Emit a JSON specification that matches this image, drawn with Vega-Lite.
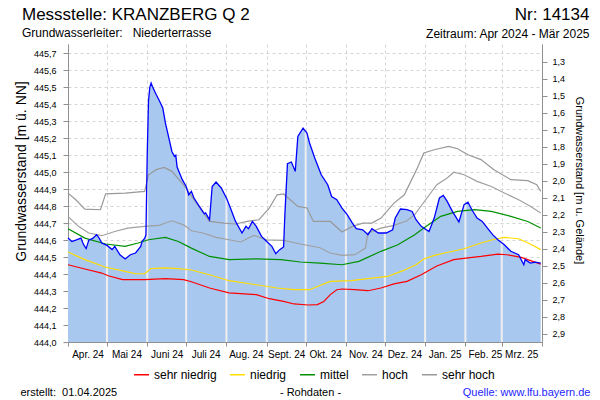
{
"$schema": "https://vega.github.io/schema/vega-lite/v6.json",
"width": 474, "height": 298,
"autosize": {"type": "none"},
"padding": {"left": 68, "top": 44, "right": 58, "bottom": 58},
"background": "white",
"title": {"text": "Messstelle: KRANZBERG Q 2", "subtitle": "Grundwasserleiter:\u00a0\u00a0 Niederterrasse", "anchor": "start", "frame": "group", "dx": -46, "offset": -35, "fontSize": 17, "fontWeight": "normal", "subtitleFontSize": 12, "color": "#000000", "subtitleColor": "#000000", "subtitlePadding": 4},
"config": {"font": "Liberation Sans", "view": {"stroke": null}},
"datasets": {
"pegel": [
{"date":"2024-04-01","level":444.612},{"date":"2024-04-04","level":444.592},{"date":"2024-04-07","level":444.60},{"date":"2024-04-11","level":444.612},{"date":"2024-04-13","level":444.573},{"date":"2024-04-15","level":444.55},{"date":"2024-04-17","level":444.60},{"date":"2024-04-20","level":444.61},{"date":"2024-04-23","level":444.632},{"date":"2024-04-25","level":444.612},{"date":"2024-04-27","level":444.583},
{"date":"2024-05-01","level":444.569},{"date":"2024-05-05","level":444.544},{"date":"2024-05-07","level":444.563},{"date":"2024-05-11","level":444.514},{"date":"2024-05-15","level":444.489},{"date":"2024-05-19","level":444.514},{"date":"2024-05-23","level":444.524},{"date":"2024-05-27","level":444.563},{"date":"2024-05-28","level":444.592},{"date":"2024-05-30","level":444.61},{"date":"2024-05-31","level":444.63},
{"date":"2024-06-01","level":445.1},{"date":"2024-06-02","level":445.42},{"date":"2024-06-03","level":445.5},{"date":"2024-06-04","level":445.525},{"date":"2024-06-05","level":445.505},{"date":"2024-06-08","level":445.456},{"date":"2024-06-10","level":445.427},{"date":"2024-06-13","level":445.378},{"date":"2024-06-15","level":445.29},{"date":"2024-06-18","level":445.19},{"date":"2024-06-20","level":445.122},{"date":"2024-06-22","level":445.093},{"date":"2024-06-23","level":445.10},{"date":"2024-06-24","level":445.03},{"date":"2024-06-28","level":444.956},
{"date":"2024-07-01","level":444.916},{"date":"2024-07-03","level":444.867},{"date":"2024-07-05","level":444.887},{"date":"2024-07-07","level":444.848},{"date":"2024-07-11","level":444.80},{"date":"2024-07-15","level":444.755},{"date":"2024-07-16","level":444.76},{"date":"2024-07-19","level":444.72},{"date":"2024-07-21","level":444.916},{"date":"2024-07-24","level":444.942},{"date":"2024-07-28","level":444.907},
{"date":"2024-08-01","level":444.848},{"date":"2024-08-04","level":444.79},{"date":"2024-08-08","level":444.71},{"date":"2024-08-13","level":444.642},{"date":"2024-08-16","level":444.681},{"date":"2024-08-18","level":444.667},{"date":"2024-08-21","level":444.71},{"date":"2024-08-24","level":444.681},{"date":"2024-08-28","level":444.622},
{"date":"2024-09-01","level":444.592},{"date":"2024-09-05","level":444.563},{"date":"2024-09-08","level":444.52},{"date":"2024-09-11","level":444.544},{"date":"2024-09-14","level":444.56},{"date":"2024-09-15","level":444.75},{"date":"2024-09-17","level":445.05},{"date":"2024-09-20","level":445.06},{"date":"2024-09-23","level":445.005},{"date":"2024-09-25","level":445.211},{"date":"2024-09-29","level":445.26},
{"date":"2024-10-02","level":445.231},{"date":"2024-10-04","level":445.172},{"date":"2024-10-08","level":445.084},{"date":"2024-10-11","level":445.025},{"date":"2024-10-13","level":444.985},{"date":"2024-10-18","level":444.926},{"date":"2024-10-21","level":444.857},{"date":"2024-10-25","level":444.838},{"date":"2024-10-29","level":444.789},
{"date":"2024-11-02","level":444.75},{"date":"2024-11-06","level":444.70},{"date":"2024-11-09","level":444.667},{"date":"2024-11-14","level":444.661},{"date":"2024-11-18","level":444.632},{"date":"2024-11-21","level":444.667},{"date":"2024-11-26","level":444.642},
{"date":"2024-12-02","level":444.642},{"date":"2024-12-07","level":444.661},{"date":"2024-12-09","level":444.73},{"date":"2024-12-13","level":444.783},{"date":"2024-12-18","level":444.78},{"date":"2024-12-22","level":444.769},{"date":"2024-12-25","level":444.72},{"date":"2024-12-29","level":444.681},
{"date":"2025-01-04","level":444.651},{"date":"2025-01-08","level":444.73},{"date":"2025-01-12","level":444.848},{"date":"2025-01-15","level":444.863},{"date":"2025-01-18","level":444.828},{"date":"2025-01-22","level":444.769},{"date":"2025-01-27","level":444.707},{"date":"2025-01-31","level":444.809},
{"date":"2025-02-03","level":444.824},{"date":"2025-02-06","level":444.779},{"date":"2025-02-10","level":444.73},{"date":"2025-02-14","level":444.71},{"date":"2025-02-18","level":444.671},{"date":"2025-02-22","level":444.632},{"date":"2025-02-26","level":444.602},
{"date":"2025-03-03","level":444.573},{"date":"2025-03-08","level":444.534},{"date":"2025-03-14","level":444.514},{"date":"2025-03-18","level":444.455},{"date":"2025-03-19","level":444.485},{"date":"2025-03-23","level":444.465},{"date":"2025-03-27","level":444.47},{"date":"2025-03-31","level":444.465}
],
"monate": [
{"date":"2024-05-01","level":444.569},{"date":"2024-06-01","level":444.95},{"date":"2024-07-01","level":444.916},{"date":"2024-08-01","level":444.848},{"date":"2024-09-01","level":444.592},{"date":"2024-10-01","level":445.24},{"date":"2024-11-01","level":444.76},{"date":"2024-12-01","level":444.642},{"date":"2025-01-01","level":444.66},{"date":"2025-02-01","level":444.815},{"date":"2025-03-01","level":444.59}
],
"grenzen": [
{"klasse":"sehr niedrig","date":"2024-04-01","level":444.455},{"klasse":"sehr niedrig","date":"2024-04-14","level":444.43},{"klasse":"sehr niedrig","date":"2024-04-27","level":444.406},{"klasse":"sehr niedrig","date":"2024-05-02","level":444.39},{"klasse":"sehr niedrig","date":"2024-05-13","level":444.367},{"klasse":"sehr niedrig","date":"2024-05-30","level":444.367},{"klasse":"sehr niedrig","date":"2024-06-15","level":444.373},{"klasse":"sehr niedrig","date":"2024-06-29","level":444.367},{"klasse":"sehr niedrig","date":"2024-07-05","level":444.355},{"klasse":"sehr niedrig","date":"2024-07-19","level":444.318},{"klasse":"sehr niedrig","date":"2024-08-03","level":444.289},{"klasse":"sehr niedrig","date":"2024-08-24","level":444.279},{"klasse":"sehr niedrig","date":"2024-09-03","level":444.255},{"klasse":"sehr niedrig","date":"2024-09-14","level":444.239},{"klasse":"sehr niedrig","date":"2024-09-22","level":444.224},{"klasse":"sehr niedrig","date":"2024-10-03","level":444.218},{"klasse":"sehr niedrig","date":"2024-10-10","level":444.22},{"klasse":"sehr niedrig","date":"2024-10-15","level":444.239},{"klasse":"sehr niedrig","date":"2024-10-20","level":444.279},{"klasse":"sehr niedrig","date":"2024-10-25","level":444.308},{"klasse":"sehr niedrig","date":"2024-10-29","level":444.312},{"klasse":"sehr niedrig","date":"2024-11-08","level":444.308},{"klasse":"sehr niedrig","date":"2024-11-18","level":444.302},{"klasse":"sehr niedrig","date":"2024-11-28","level":444.318},{"klasse":"sehr niedrig","date":"2024-12-08","level":444.342},{"klasse":"sehr niedrig","date":"2024-12-18","level":444.357},{"klasse":"sehr niedrig","date":"2024-12-29","level":444.396},{"klasse":"sehr niedrig","date":"2025-01-10","level":444.448},{"klasse":"sehr niedrig","date":"2025-01-23","level":444.485},{"klasse":"sehr niedrig","date":"2025-02-03","level":444.495},{"klasse":"sehr niedrig","date":"2025-02-13","level":444.504},{"klasse":"sehr niedrig","date":"2025-02-26","level":444.518},{"klasse":"sehr niedrig","date":"2025-03-05","level":444.514},{"klasse":"sehr niedrig","date":"2025-03-16","level":444.498},{"klasse":"sehr niedrig","date":"2025-03-31","level":444.459},
{"klasse":"niedrig","date":"2024-04-01","level":444.53},{"klasse":"niedrig","date":"2024-04-14","level":444.485},{"klasse":"niedrig","date":"2024-04-30","level":444.44},{"klasse":"niedrig","date":"2024-05-15","level":444.416},{"klasse":"niedrig","date":"2024-05-23","level":444.402},{"klasse":"niedrig","date":"2024-05-30","level":444.402},{"klasse":"niedrig","date":"2024-06-04","level":444.432},{"klasse":"niedrig","date":"2024-06-15","level":444.436},{"klasse":"niedrig","date":"2024-06-25","level":444.432},{"klasse":"niedrig","date":"2024-07-05","level":444.424},{"klasse":"niedrig","date":"2024-07-19","level":444.396},{"klasse":"niedrig","date":"2024-08-03","level":444.361},{"klasse":"niedrig","date":"2024-08-24","level":444.337},{"klasse":"niedrig","date":"2024-09-09","level":444.318},{"klasse":"niedrig","date":"2024-09-22","level":444.308},{"klasse":"niedrig","date":"2024-10-04","level":444.308},{"klasse":"niedrig","date":"2024-10-12","level":444.333},{"klasse":"niedrig","date":"2024-10-20","level":444.357},{"klasse":"niedrig","date":"2024-11-05","level":444.361},{"klasse":"niedrig","date":"2024-11-18","level":444.373},{"klasse":"niedrig","date":"2024-12-03","level":444.386},{"klasse":"niedrig","date":"2024-12-15","level":444.42},{"klasse":"niedrig","date":"2024-12-25","level":444.455},{"klasse":"niedrig","date":"2024-12-31","level":444.489},{"klasse":"niedrig","date":"2025-01-08","level":444.51},{"klasse":"niedrig","date":"2025-01-16","level":444.524},{"klasse":"niedrig","date":"2025-01-31","level":444.549},{"klasse":"niedrig","date":"2025-02-13","level":444.583},{"klasse":"niedrig","date":"2025-02-22","level":444.602},{"klasse":"niedrig","date":"2025-03-03","level":444.616},{"klasse":"niedrig","date":"2025-03-14","level":444.608},{"klasse":"niedrig","date":"2025-03-23","level":444.577},{"klasse":"niedrig","date":"2025-03-31","level":444.544},
{"klasse":"mittel","date":"2024-04-01","level":444.667},{"klasse":"mittel","date":"2024-04-14","level":444.612},{"klasse":"mittel","date":"2024-04-30","level":444.577},{"klasse":"mittel","date":"2024-05-15","level":444.563},{"klasse":"mittel","date":"2024-05-25","level":444.583},{"klasse":"mittel","date":"2024-06-02","level":444.602},{"klasse":"mittel","date":"2024-06-15","level":444.616},{"klasse":"mittel","date":"2024-06-25","level":444.592},{"klasse":"mittel","date":"2024-07-05","level":444.553},{"klasse":"mittel","date":"2024-07-19","level":444.504},{"klasse":"mittel","date":"2024-08-03","level":444.485},{"klasse":"mittel","date":"2024-08-24","level":444.49},{"klasse":"mittel","date":"2024-09-12","level":444.485},{"klasse":"mittel","date":"2024-09-27","level":444.471},{"klasse":"mittel","date":"2024-10-12","level":444.465},{"klasse":"mittel","date":"2024-10-29","level":444.455},{"klasse":"mittel","date":"2024-11-11","level":444.475},{"klasse":"mittel","date":"2024-11-28","level":444.534},{"klasse":"mittel","date":"2024-12-11","level":444.573},{"klasse":"mittel","date":"2024-12-24","level":444.632},{"klasse":"mittel","date":"2024-12-31","level":444.671},{"klasse":"mittel","date":"2025-01-13","level":444.74},{"klasse":"mittel","date":"2025-01-26","level":444.769},{"klasse":"mittel","date":"2025-02-08","level":444.779},{"klasse":"mittel","date":"2025-02-21","level":444.769},{"klasse":"mittel","date":"2025-03-08","level":444.74},{"klasse":"mittel","date":"2025-03-21","level":444.71},{"klasse":"mittel","date":"2025-03-31","level":444.671},
{"klasse":"hoch","date":"2024-04-01","level":444.74},{"klasse":"hoch","date":"2024-04-09","level":444.681},{"klasse":"hoch","date":"2024-04-17","level":444.642},{"klasse":"hoch","date":"2024-04-27","level":444.626},{"klasse":"hoch","date":"2024-05-07","level":444.651},{"klasse":"hoch","date":"2024-05-17","level":444.671},{"klasse":"hoch","date":"2024-05-30","level":444.681},{"klasse":"hoch","date":"2024-06-10","level":444.687},{"klasse":"hoch","date":"2024-06-20","level":444.714},{"klasse":"hoch","date":"2024-06-29","level":444.69},{"klasse":"hoch","date":"2024-07-05","level":444.655},{"klasse":"hoch","date":"2024-07-14","level":444.642},{"klasse":"hoch","date":"2024-07-24","level":444.616},{"klasse":"hoch","date":"2024-08-03","level":444.602},{"klasse":"hoch","date":"2024-08-12","level":444.589},{"klasse":"hoch","date":"2024-08-22","level":444.628},{"klasse":"hoch","date":"2024-09-01","level":444.602},{"klasse":"hoch","date":"2024-09-14","level":444.598},{"klasse":"hoch","date":"2024-09-27","level":444.577},{"klasse":"hoch","date":"2024-10-12","level":444.555},{"klasse":"hoch","date":"2024-10-20","level":444.524},{"klasse":"hoch","date":"2024-10-29","level":444.51},{"klasse":"hoch","date":"2024-11-08","level":444.514},{"klasse":"hoch","date":"2024-11-16","level":444.553},{"klasse":"hoch","date":"2024-11-18","level":444.642},{"klasse":"hoch","date":"2024-11-28","level":444.671},{"klasse":"hoch","date":"2024-12-08","level":444.687},{"klasse":"hoch","date":"2024-12-18","level":444.714},{"klasse":"hoch","date":"2024-12-24","level":444.75},{"klasse":"hoch","date":"2024-12-31","level":444.823},{"klasse":"hoch","date":"2025-01-10","level":444.926},{"klasse":"hoch","date":"2025-01-18","level":444.966},{"klasse":"hoch","date":"2025-01-23","level":445.0},{"klasse":"hoch","date":"2025-01-31","level":444.985},{"klasse":"hoch","date":"2025-02-10","level":444.946},{"klasse":"hoch","date":"2025-02-21","level":444.916},{"klasse":"hoch","date":"2025-03-03","level":444.877},{"klasse":"hoch","date":"2025-03-14","level":444.838},{"klasse":"hoch","date":"2025-03-23","level":444.799},{"klasse":"hoch","date":"2025-03-31","level":444.76},
{"klasse":"sehr hoch","date":"2024-04-01","level":444.877},{"klasse":"sehr hoch","date":"2024-04-07","level":444.838},{"klasse":"sehr hoch","date":"2024-04-14","level":444.783},{"klasse":"sehr hoch","date":"2024-04-26","level":444.779},{"klasse":"sehr hoch","date":"2024-04-30","level":444.872},{"klasse":"sehr hoch","date":"2024-05-15","level":444.877},{"klasse":"sehr hoch","date":"2024-05-30","level":444.887},{"klasse":"sehr hoch","date":"2024-06-02","level":444.985},{"klasse":"sehr hoch","date":"2024-06-08","level":445.015},{"klasse":"sehr hoch","date":"2024-06-14","level":445.028},{"klasse":"sehr hoch","date":"2024-06-20","level":445.005},{"klasse":"sehr hoch","date":"2024-06-29","level":444.926},{"klasse":"sehr hoch","date":"2024-07-07","level":444.838},{"klasse":"sehr hoch","date":"2024-07-19","level":444.71},{"klasse":"sehr hoch","date":"2024-07-30","level":444.70},{"klasse":"sehr hoch","date":"2024-08-08","level":444.695},{"klasse":"sehr hoch","date":"2024-08-17","level":444.71},{"klasse":"sehr hoch","date":"2024-08-26","level":444.72},{"klasse":"sehr hoch","date":"2024-09-03","level":444.789},{"klasse":"sehr hoch","date":"2024-09-09","level":444.867},{"klasse":"sehr hoch","date":"2024-09-14","level":444.872},{"klasse":"sehr hoch","date":"2024-09-25","level":444.799},{"klasse":"sehr hoch","date":"2024-10-02","level":444.789},{"klasse":"sehr hoch","date":"2024-10-07","level":444.71},{"klasse":"sehr hoch","date":"2024-10-20","level":444.71},{"klasse":"sehr hoch","date":"2024-10-29","level":444.648},{"klasse":"sehr hoch","date":"2024-11-06","level":444.681},{"klasse":"sehr hoch","date":"2024-11-14","level":444.70},{"klasse":"sehr hoch","date":"2024-11-21","level":444.70},{"klasse":"sehr hoch","date":"2024-11-28","level":444.73},{"klasse":"sehr hoch","date":"2024-12-08","level":444.818},{"klasse":"sehr hoch","date":"2024-12-16","level":444.867},{"klasse":"sehr hoch","date":"2024-12-21","level":444.946},{"klasse":"sehr hoch","date":"2024-12-26","level":445.025},{"klasse":"sehr hoch","date":"2024-12-31","level":445.113},{"klasse":"sehr hoch","date":"2025-01-08","level":445.132},{"klasse":"sehr hoch","date":"2025-01-19","level":445.152},{"klasse":"sehr hoch","date":"2025-01-26","level":445.138},{"klasse":"sehr hoch","date":"2025-02-03","level":445.103},{"klasse":"sehr hoch","date":"2025-02-13","level":445.074},{"klasse":"sehr hoch","date":"2025-02-23","level":445.015},{"klasse":"sehr hoch","date":"2025-03-08","level":444.956},{"klasse":"sehr hoch","date":"2025-03-21","level":444.95},{"klasse":"sehr hoch","date":"2025-03-28","level":444.926},{"klasse":"sehr hoch","date":"2025-03-31","level":444.887}
]
},
"layer": [
{
"data": {"name": "pegel"},
"mark": {"type": "area", "color": "#a8c8f0", "opacity": 1},
"encoding": {
"x": {"field": "date", "type": "temporal",
"scale": {"type": "utc", "domain": [{"year":2024,"month":4,"date":1,"utc":true},{"year":2025,"month":4,"date":1,"utc":true}]},
"axis": {"orient": "bottom",
"values": [{"year":2024,"month":4,"date":1,"utc":true},{"year":2024,"month":5,"date":1,"utc":true},{"year":2024,"month":6,"date":1,"utc":true},{"year":2024,"month":7,"date":1,"utc":true},{"year":2024,"month":8,"date":1,"utc":true},{"year":2024,"month":9,"date":1,"utc":true},{"year":2024,"month":10,"date":1,"utc":true},{"year":2024,"month":11,"date":1,"utc":true},{"year":2024,"month":12,"date":1,"utc":true},{"year":2025,"month":1,"date":1,"utc":true},{"year":2025,"month":2,"date":1,"utc":true},{"year":2025,"month":3,"date":1,"utc":true},{"year":2025,"month":4,"date":1,"utc":true}],
"labelExpr": "(utcyear(datum.value) == 2025 && utcmonth(datum.value) == 3) ? '' : ['Jan.','Feb.','Mrz.','Apr.','Mai','Juni','Juli','Aug.','Sept.','Okt.','Nov.','Dez.'][utcmonth(datum.value)] + ' ' + utcFormat(datum.value, '%y')",
"labelOffset": 19.5, "labelFontSize": 10, "labelColor": "#000000", "labelPadding": 3, "labelOverlap": false, "labelFlush": false, "labelBound": false,
"tickSize": 4, "tickColor": "#909090", "domainColor": "#909090",
"grid": true, "gridDash": [3, 3], "gridColor": "#d4d4d4",
"title": "- Rohdaten -", "titleFontSize": 11, "titleFontWeight": "normal", "titleColor": "#000000",
"titleX": 242, "titleY": 50, "titleAlign": "center", "titleBaseline": "middle"}},
"y": {"field": "level", "type": "quantitative",
"scale": {"domain": [444, 445.755], "zero": false, "nice": false},
"axis": {"orient": "left",
"values": [444.0,444.1,444.2,444.3,444.4,444.5,444.6,444.7,444.8,444.9,445.0,445.1,445.2,445.3,445.4,445.5,445.6,445.7],
"labelExpr": "replace(format(datum.value, '.1f'), '.', ',')",
"labelFontSize": 9, "labelColor": "#000000", "labelPadding": 7, "tickSize": 5, "tickColor": "#909090", "domainColor": "#909090",
"grid": true, "gridDash": [3, 3], "gridColor": "#d4d4d4",
"title": "Grundwasserstand [m ü. NN]", "titleFontSize": 14, "titleFontWeight": "normal", "titleColor": "#000000",
"titleX": -47, "titleY": 127, "titleAngle": -90, "titleAlign": "center", "titleBaseline": "middle"}},
"y2": {"datum": 444}
}
},
{
"data": {"name": "monate"},
"mark": {"type": "rule", "color": "#eeeeee", "strokeWidth": 2},
"encoding": {
"x": {"field": "date", "type": "temporal",
"axis": {"orient": "top", "values": [{"year":2025,"month":4,"date":1,"utc":true}],
"labelExpr": "'Nr: 14134'", "labelFontSize": 17, "labelColor": "#000000", "labelAlign": "right", "labelBaseline": "alphabetic",
"labelOffset": 47, "labelPadding": 25, "labelBound": false, "labelFlush": false,
"ticks": false, "tickSize": 0, "domain": false, "grid": false,
"title": "Zeitraum: Apr 2024 - Mär 2025", "titleFontSize": 12, "titleFontWeight": "normal", "titleColor": "#000000",
"titleX": 521, "titleY": -7, "titleAlign": "right", "titleBaseline": "alphabetic"}},
"y": {"field": "level", "type": "quantitative", "axis": null},
"y2": {"datum": 444}
}
},
{
"data": {"name": "grenzen"},
"mark": {"type": "line", "strokeWidth": 1.2},
"encoding": {
"x": {"field": "date", "type": "temporal",
"axis": {"orient": "bottom", "labels": false, "ticks": false, "domain": false, "grid": false,
"title": "erstellt:\u00a0 01.04.2025", "titleFontSize": 11, "titleFontWeight": "normal", "titleColor": "#000000",
"titleX": -48, "titleY": 50, "titleAlign": "left", "titleBaseline": "middle"}},
"y": {"field": "level", "type": "quantitative", "axis": null},
"color": {"field": "klasse", "type": "nominal",
"scale": {"domain": ["sehr niedrig", "niedrig", "mittel", "hoch", "sehr hoch"], "range": ["#ff0000", "#ffdd00", "#009000", "#a0a0a0", "#999999"]},
"legend": {"orient": "none", "legendX": 65, "legendY": 322, "direction": "horizontal", "title": null,
"symbolType": "stroke", "symbolSize": 225, "symbolStrokeWidth": 1.5, "labelFontSize": 12, "labelColor": "#000000", "labelOffset": 4, "columnPadding": 10, "padding": 0}}
}
},
{
"data": {"name": "pegel"},
"mark": {"type": "line", "color": "#0000ff", "strokeWidth": 1.3},
"encoding": {
"x": {"field": "date", "type": "temporal",
"axis": {"orient": "bottom", "labels": false, "ticks": false, "domain": false, "grid": false,
"title": "Quelle: www.lfu.bayern.de", "titleFontSize": 11, "titleFontWeight": "normal", "titleColor": "#1f1fff",
"titleX": 522, "titleY": 50, "titleAlign": "right", "titleBaseline": "middle"}},
"y": {"field": "level", "type": "quantitative",
"axis": {"orient": "right",
"values": [444.05,444.15,444.25,444.35,444.45,444.55,444.65,444.75,444.85,444.95,445.05,445.15,445.25,445.35,445.45,445.55,445.65],
"labelExpr": "replace(format(446.95 - datum.value, '.1f'), '.', ',')",
"labelFontSize": 9, "labelColor": "#000000", "labelPadding": 5, "tickSize": 5, "tickColor": "#909090", "domainColor": "#909090", "grid": false,
"title": "Grundwasserstand [m u. Gelände]", "titleFontSize": 11, "titleFontWeight": "normal", "titleColor": "#000000",
"titleX": 36, "titleY": 136, "titleAngle": 90, "titleAlign": "center", "titleBaseline": "middle"}}
}
}
],
"resolve": {"axis": {"x": "independent", "y": "independent"}}
}
